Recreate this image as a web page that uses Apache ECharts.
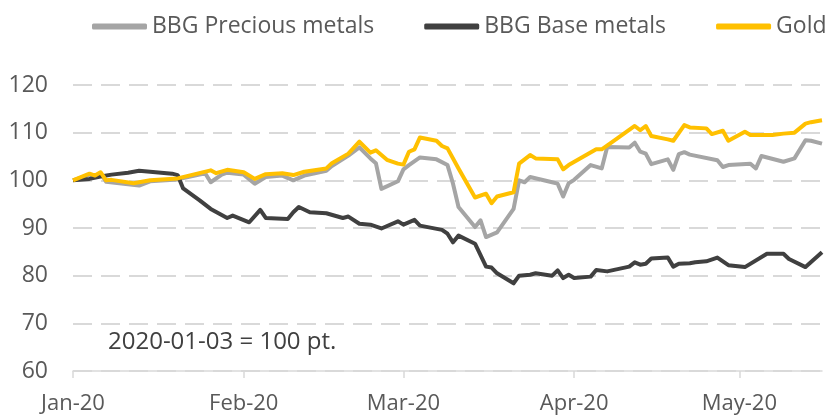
<!DOCTYPE html>
<html>
<head>
<meta charset="utf-8">
<script src="https://cdn.jsdelivr.net/npm/echarts@6/dist/echarts.min.js"></script>
<style>
  html, body { margin: 0; padding: 0; background: #fff; }
  #chart { width: 830px; height: 417px; }
</style>
</head>
<body>
<div id="chart"></div>
<script>
const preciousDates = [
  "2020-01-03", "2020-01-06", "2020-01-07", "2020-01-08", "2020-01-09", "2020-01-15", "2020-01-17", "2020-01-22",
  "2020-01-27", "2020-01-28", "2020-01-30", "2020-01-31", "2020-02-03", "2020-02-05", "2020-02-07", "2020-02-10",
  "2020-02-12", "2020-02-14", "2020-02-18", "2020-02-19", "2020-02-22", "2020-02-24", "2020-02-26", "2020-02-27",
  "2020-02-28", "2020-03-02", "2020-03-03", "2020-03-04", "2020-03-06", "2020-03-09", "2020-03-11", "2020-03-12",
  "2020-03-13", "2020-03-16", "2020-03-17", "2020-03-18", "2020-03-20", "2020-03-23", "2020-03-24", "2020-03-25",
  "2020-03-26", "2020-03-30", "2020-03-31", "2020-04-01", "2020-04-02", "2020-04-03", "2020-04-06", "2020-04-08",
  "2020-04-09", "2020-04-13", "2020-04-14", "2020-04-15", "2020-04-16", "2020-04-17", "2020-04-20", "2020-04-21",
  "2020-04-22", "2020-04-23", "2020-04-24", "2020-04-29", "2020-04-30", "2020-05-01", "2020-05-05", "2020-05-06",
  "2020-05-07", "2020-05-11", "2020-05-13", "2020-05-15", "2020-05-16", "2020-05-18"
];
const preciousValues = [
  100.0, 101.2, 100.8, 101.5, 99.7, 98.9, 99.8, 100.2,
  101.5, 99.6, 101.2, 101.6, 101.2, 99.3, 100.7, 101.0,
  100.0, 101.0, 102.0, 103.0, 105.2, 106.9, 104.6, 103.6,
  98.2, 99.8, 102.3, 103.2, 104.8, 104.4, 103.2, 99.3,
  94.4, 90.2, 91.6, 88.1, 89.1, 94.0, 100.0, 99.6,
  100.7, 99.6, 99.3, 96.6, 99.4, 100.1, 103.2, 102.5,
  107.0, 106.9, 107.9, 106.0, 105.6, 103.4, 104.4, 102.2,
  105.5, 105.9, 105.4, 104.2, 102.8, 103.2, 103.5, 102.5,
  105.1, 103.9, 104.6, 108.4, 108.3, 107.7
];

const baseDates = [
  "2020-01-03", "2020-01-06", "2020-01-08", "2020-01-10", "2020-01-13", "2020-01-15", "2020-01-17", "2020-01-21",
  "2020-01-22", "2020-01-23", "2020-01-26", "2020-01-28", "2020-01-31", "2020-02-01", "2020-02-04", "2020-02-06",
  "2020-02-07", "2020-02-11", "2020-02-12", "2020-02-13", "2020-02-15", "2020-02-18", "2020-02-21", "2020-02-22",
  "2020-02-24", "2020-02-26", "2020-02-28", "2020-03-02", "2020-03-03", "2020-03-05", "2020-03-06", "2020-03-10",
  "2020-03-11", "2020-03-12", "2020-03-13", "2020-03-16", "2020-03-18", "2020-03-19", "2020-03-20", "2020-03-23",
  "2020-03-24", "2020-03-26", "2020-03-27", "2020-03-30", "2020-03-31", "2020-04-01", "2020-04-02", "2020-04-03",
  "2020-04-06", "2020-04-07", "2020-04-09", "2020-04-13", "2020-04-14", "2020-04-15", "2020-04-16", "2020-04-17",
  "2020-04-20", "2020-04-21", "2020-04-22", "2020-04-24", "2020-04-25", "2020-04-27", "2020-04-29", "2020-05-01",
  "2020-05-04", "2020-05-08", "2020-05-11", "2020-05-12", "2020-05-15", "2020-05-18"
];
const baseValues = [
  100.0, 100.3, 100.8, 101.2, 101.6, 102.0, 101.8, 101.4,
  101.1, 98.3, 95.8, 94.0, 92.1, 92.6, 91.2, 93.8,
  92.1, 91.9, 93.3, 94.4, 93.3, 93.1, 92.1, 92.4,
  90.9, 90.7, 89.9, 91.4, 90.7, 91.7, 90.5, 89.6,
  88.8, 87.0, 88.4, 86.7, 81.9, 81.7, 80.5, 78.4,
  80.0, 80.2, 80.5, 80.0, 81.1, 79.5, 80.2, 79.5,
  79.8, 81.2, 80.9, 81.9, 82.8, 82.3, 82.5, 83.6,
  83.8, 81.9, 82.5, 82.6, 82.8, 83.0, 83.8, 82.2,
  81.8, 84.6, 84.6, 83.5, 81.8, 84.9
];

const goldDates = [
  "2020-01-03", "2020-01-06", "2020-01-07", "2020-01-08", "2020-01-09", "2020-01-10", "2020-01-14", "2020-01-17",
  "2020-01-22", "2020-01-28", "2020-01-29", "2020-01-31", "2020-02-03", "2020-02-05", "2020-02-07", "2020-02-10",
  "2020-02-12", "2020-02-14", "2020-02-18", "2020-02-19", "2020-02-22", "2020-02-24", "2020-02-26", "2020-02-27",
  "2020-02-29", "2020-03-02", "2020-03-03", "2020-03-04", "2020-03-05", "2020-03-06", "2020-03-09", "2020-03-10",
  "2020-03-11", "2020-03-13", "2020-03-16", "2020-03-18", "2020-03-19", "2020-03-20", "2020-03-23", "2020-03-24",
  "2020-03-26", "2020-03-27", "2020-03-31", "2020-04-01", "2020-04-02", "2020-04-07", "2020-04-08", "2020-04-10",
  "2020-04-14", "2020-04-15", "2020-04-16", "2020-04-17", "2020-04-20", "2020-04-21", "2020-04-23", "2020-04-24",
  "2020-04-27", "2020-04-28", "2020-04-30", "2020-05-01", "2020-05-04", "2020-05-05", "2020-05-09", "2020-05-11",
  "2020-05-13", "2020-05-15", "2020-05-16", "2020-05-18"
];
const goldValues = [
  100.0, 101.4, 101.0, 101.7, 100.0, 100.1, 99.4, 100.0,
  100.4, 102.1, 101.5, 102.2, 101.7, 100.3, 101.3, 101.5,
  101.1, 101.8, 102.5, 103.6, 105.6, 108.1, 105.8, 106.3,
  104.3, 103.5, 103.3, 106.0, 106.5, 109.0, 108.3, 107.2,
  106.7, 102.5, 96.4, 97.2, 95.2, 96.6, 97.5, 103.5,
  105.3, 104.6, 104.4, 102.3, 103.2, 106.5, 106.5, 108.1,
  111.4, 110.5, 111.4, 109.3, 108.6, 108.3, 111.6, 111.1,
  110.9, 109.7, 110.4, 108.3, 110.2, 109.5, 109.5, 109.8,
  110.0, 111.9, 112.2, 112.6
];

const tickDates = ["2020-01-03", "2020-02-03", "2020-03-03", "2020-04-03", "2020-05-03"];
const tickLabels = ["Jan-20", "Feb-20", "Mar-20", "Apr-20", "May-20"];

const font = "Open Sans";
const toTime = (d) => echarts.number.parseDate(d).getTime();
const tickTimes = tickDates.map(toTime);

function pairs(dates, values) {
  return dates.map((d, i) => [toTime(d), values[i]]);
}

function lineSeries(name, color, dates, values) {
  return {
    name: name,
    type: "line",
    showSymbol: false,
    symbol: "none",
    data: pairs(dates, values),
    lineStyle: { color: color, width: 4, join: "round" },
    itemStyle: { color: color },
    emphasis: { disabled: true },
  };
}

const chart = echarts.init(document.getElementById("chart"));
chart.setOption({
  animation: false,
  grid: { left: 73, right: 8, top: 85, bottom: 46 },
  legend: {
    left: 87,
    top: 10,
    width: 743,
    icon: "roundRect",
    itemWidth: 55,
    itemHeight: 6,
    itemGap: 50,
    textStyle: { fontFamily: font, fontSize: 23, color: "#595959" },
  },
  xAxis: {
    type: "value",
    min: toTime("2020-01-03"),
    max: toTime("2020-05-18"),
    axisLine: { lineStyle: { color: "#d9d9d9", width: 1.5 } },
    axisTick: { show: true, length: 7, customValues: tickTimes, lineStyle: { color: "#d9d9d9", width: 1.5 } },
    axisLabel: {
      customValues: tickTimes,
      fontFamily: font,
      fontSize: 22,
      color: "#595959",
      margin: 22,
      formatter: (val) => {
        const i = tickTimes.indexOf(+val);
        return i >= 0 ? tickLabels[i] : "";
      },
    },
    splitLine: { show: false },
  },
  yAxis: {
    type: "value",
    min: 60,
    max: 120,
    interval: 10,
    axisLine: { show: false },
    axisTick: { show: false },
    axisLabel: { fontFamily: font, fontSize: 23, color: "#595959", margin: 25 },
    splitLine: { lineStyle: { color: "#d9d9d9", width: 2, type: [19, 9] } },
  },
  graphic: [
    {
      type: "text",
      left: 108,
      top: 330,
      style: { text: "2020-01-03 = 100 pt.", font: '24px "Open Sans"', fill: "#404040" },
    },
  ],
  series: [
    lineSeries("BBG Precious metals", "#a5a5a5", preciousDates, preciousValues),
    lineSeries("BBG Base metals", "#404040", baseDates, baseValues),
    lineSeries("Gold", "#ffc000", goldDates, goldValues),
  ],
});
</script>
</body>
</html>
